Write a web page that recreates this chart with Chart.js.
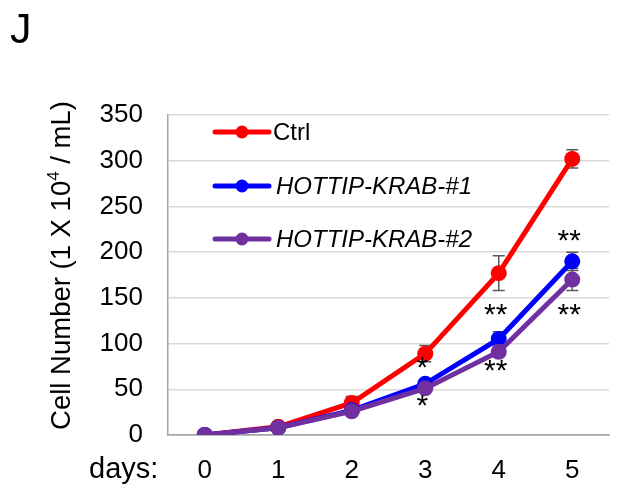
<!DOCTYPE html>
<html>
<head>
<meta charset="utf-8">
<script src="https://cdn.jsdelivr.net/npm/chart.js@4.4.1/dist/chart.umd.min.js"></script>
<style>
  html, body { margin: 0; padding: 0; background: #ffffff; }
  canvas { display: block; }
</style>
</head>
<body>
<canvas id="growth" width="618" height="491"></canvas>
<script>
// Days of culture (x categories)
const days = ['0', '1', '2', '3', '4', '5'];

// Mean cell counts (x 10^4 / mL)
const ctrlValues  = [0, 9, 35, 89, 177, 302];
const krab1Values = [0, 8, 27, 56, 105, 190];
const krab2Values = [0, 8, 26, 51, 91, 170];

// Standard deviations
const ctrlErrors  = [0, 2, 7, 9, 19, 10];
const krab1Errors = [0, 1, 2, 4, 8, 10];
const krab2Errors = [0, 1, 2, 3, 5, 12];

// Y axis range and step
const yMin = 0, yMax = 350, yStep = 50;

// Significance marks: day index, value level where the mark sits, text
const sigDays   = [3, 3, 4, 4, 5, 5];
const sigLevels = [82, 40, 140, 79, 221, 140];
const sigTexts  = ['*', '*', '**', '**', '**', '**'];

const seriesNames  = ['Ctrl', 'HOTTIP-KRAB-#1', 'HOTTIP-KRAB-#2'];
const seriesItalic = [false, true, true];
const seriesColors = ['#ff0000', '#0000ff', '#7030a0'];
const seriesErrors = [ctrlErrors, krab1Errors, krab2Errors];

const FONT = '"Liberation Sans", Arial, sans-serif';

const overlay = {
  id: 'overlay',
  beforeDatasetsDraw(chart) {
    const ctx = chart.ctx;
    const xs = chart.scales.x, ys = chart.scales.y;
    ctx.save();
    ctx.strokeStyle = '#595959';
    ctx.lineWidth = 1.5;
    chart.data.datasets.forEach((ds, i) => {
      const errs = seriesErrors[i];
      ds.data.forEach((v, j) => {
        const e = errs[j];
        if (!e) return;
        const x = xs.getPixelForValue(j);
        const yt = ys.getPixelForValue(v + e);
        const yb = ys.getPixelForValue(v - e);
        ctx.beginPath();
        ctx.moveTo(x, yt); ctx.lineTo(x, yb);
        ctx.moveTo(x - 6, yt); ctx.lineTo(x + 6, yt);
        ctx.moveTo(x - 6, yb); ctx.lineTo(x + 6, yb);
        ctx.stroke();
      });
    });
    ctx.restore();
  },
  afterDraw(chart) {
    const ctx = chart.ctx;
    const xs = chart.scales.x, ys = chart.scales.y;
    ctx.save();
    ctx.fillStyle = '#000';

    // Panel letter
    ctx.font = '43px ' + FONT;
    ctx.textBaseline = 'alphabetic';
    ctx.textAlign = 'left';
    ctx.fillText('J', 10, 43);

    // X axis prefix
    ctx.font = '29px ' + FONT;
    ctx.fillText('days:', 89, 478);

    // Y axis title with superscript exponent
    ctx.save();
    ctx.translate(70, 265.5);
    ctx.rotate(-Math.PI / 2);
    const p1 = 'Cell Number (1 X 10', p2 = '4', p3 = ' / mL)';
    ctx.font = '27.5px ' + FONT;
    const w1 = ctx.measureText(p1).width, w3 = ctx.measureText(p3).width;
    ctx.font = '17px ' + FONT;
    const w2 = ctx.measureText(p2).width;
    let x0 = -(w1 + w2 + w3) / 2;
    ctx.font = '27.5px ' + FONT;
    ctx.fillText(p1, x0, 0);
    ctx.font = '17px ' + FONT;
    ctx.fillText(p2, x0 + w1, -11);
    ctx.font = '27.5px ' + FONT;
    ctx.fillText(p3, x0 + w1 + w2, 0);
    ctx.restore();

    // Legend inside the plot area
    const rowY = [132, 186, 239];
    seriesNames.forEach((name, i) => {
      const y = rowY[i];
      ctx.strokeStyle = seriesColors[i];
      ctx.lineWidth = 5;
      ctx.lineCap = 'round';
      ctx.beginPath();
      ctx.moveTo(215, y); ctx.lineTo(269, y);
      ctx.stroke();
      ctx.fillStyle = seriesColors[i];
      ctx.beginPath();
      ctx.arc(242, y, 6.5, 0, Math.PI * 2);
      ctx.fill();
      ctx.fillStyle = '#000';
      ctx.font = (seriesItalic[i] ? 'italic ' : '') + '24px ' + FONT;
      ctx.textBaseline = 'middle';
      ctx.fillText(name, seriesItalic[i] ? 276 : 273, y + 1);
    });

    // Significance asterisks
    ctx.font = '30px ' + FONT;
    ctx.textAlign = 'center';
    ctx.textBaseline = 'alphabetic';
    sigTexts.forEach((t, k) => {
      const x = xs.getPixelForValue(sigDays[k]) - 3;
      const y = ys.getPixelForValue(sigLevels[k]);
      ctx.fillText(t, x, y + 17);
    });
    ctx.restore();
  }
};

new Chart(document.getElementById('growth'), {
  type: 'line',
  data: {
    labels: days,
    datasets: [
      { label: seriesNames[0], data: ctrlValues,  borderColor: seriesColors[0], backgroundColor: seriesColors[0], order: 2 },
      { label: seriesNames[1], data: krab1Values, borderColor: seriesColors[1], backgroundColor: seriesColors[1], order: 1 },
      { label: seriesNames[2], data: krab2Values, borderColor: seriesColors[2], backgroundColor: seriesColors[2], order: 0 }
    ].map(d => Object.assign(d, {
      borderWidth: 5, pointRadius: 8, pointBorderWidth: 0, pointHoverRadius: 8,
      tension: 0, fill: false
    }))
  },
  options: {
    responsive: false,
    devicePixelRatio: 1,
    animation: false,
    layout: { padding: { top: 115, right: 9, left: 0, bottom: 0 } },
    plugins: { legend: { display: false }, tooltip: { enabled: false } },
    scales: {
      x: {
        offset: true,
        grid: { display: false, drawTicks: false },
        border: { display: true, color: '#a6a6a6', width: 1.5 },
        ticks: { color: '#000', font: { family: FONT, size: 26 }, padding: 20, maxRotation: 0 },
        afterFit: s => { s.height = 56; }
      },
      y: {
        min: yMin, max: yMax,
        grid: { color: ctx => ctx.tick && ctx.tick.value === 0 ? '#a6a6a6' : '#d9d9d9', lineWidth: 1.5, drawTicks: false },
        border: { display: true, color: '#a6a6a6', width: 1.5 },
        ticks: { stepSize: yStep, color: '#000', font: { family: FONT, size: 26 }, padding: 25 },
        afterFit: s => { s.width = 168; }
      }
    }
  },
  plugins: [overlay]
});
</script>
</body>
</html>
